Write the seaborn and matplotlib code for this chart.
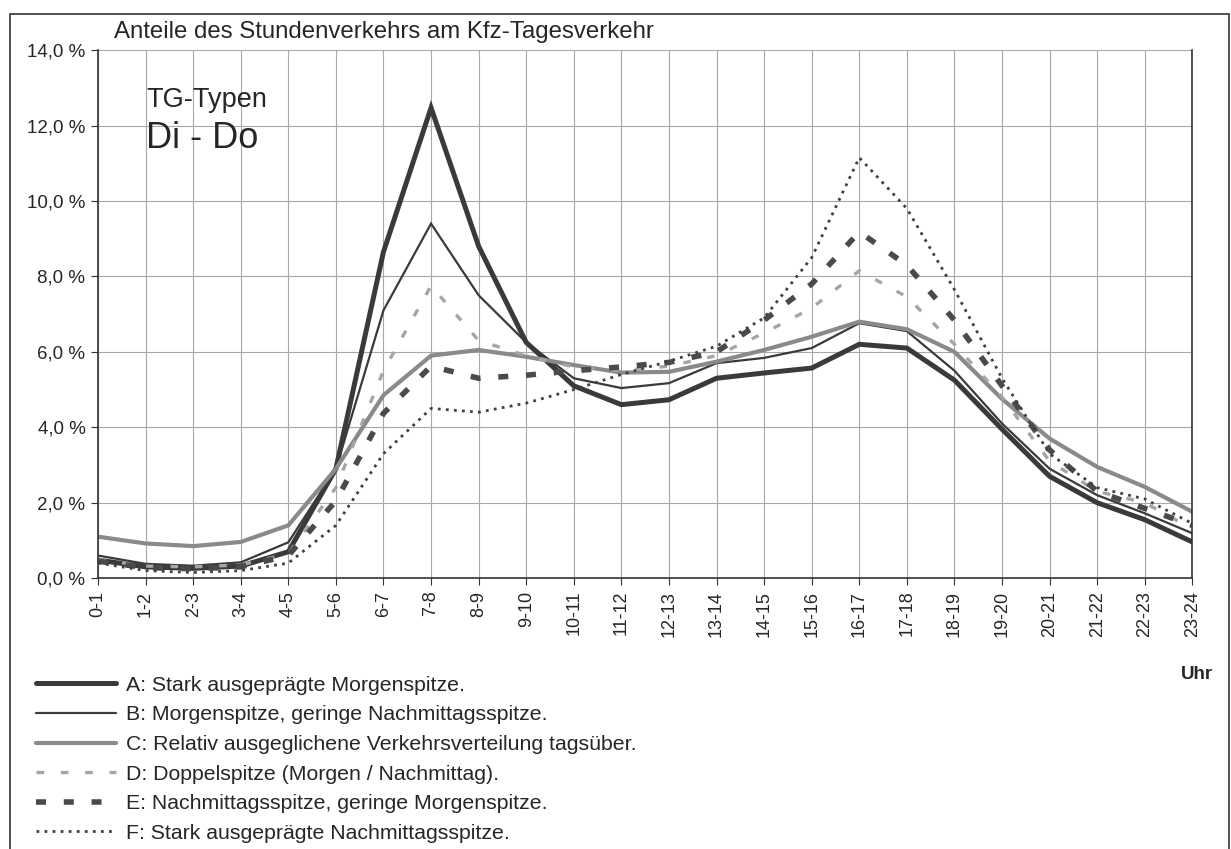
import matplotlib
matplotlib.use("Agg")
import matplotlib.pyplot as plt
import seaborn as sns
import pandas as pd
from matplotlib.patches import Rectangle

# hourly share of daily traffic (%)
hours = ["0-1", "1-2", "2-3", "3-4", "4-5", "5-6", "6-7", "7-8", "8-9", "9-10",
         "10-11", "11-12", "12-13", "13-14", "14-15", "15-16", "16-17", "17-18",
         "18-19", "19-20", "20-21", "21-22", "22-23", "23-24"]

type_a = [0.48, 0.30, 0.26, 0.32, 0.70, 2.90, 8.65, 12.47, 8.80, 6.25, 5.10, 4.60,
          4.73, 5.30, 5.44, 5.57, 6.20, 6.10, 5.25, 3.95, 2.70, 2.00, 1.55, 0.96]
type_b = [0.60, 0.38, 0.33, 0.42, 0.95, 2.90, 7.10, 9.40, 7.50, 6.25, 5.30, 5.04,
          5.17, 5.70, 5.84, 6.10, 6.76, 6.55, 5.50, 4.10, 2.90, 2.20, 1.72, 1.19]
type_c = [1.10, 0.92, 0.85, 0.96, 1.40, 2.90, 4.85, 5.90, 6.05, 5.87, 5.65, 5.45,
          5.47, 5.74, 6.05, 6.40, 6.80, 6.60, 6.00, 4.75, 3.70, 2.95, 2.42, 1.76]
type_d = [0.50, 0.32, 0.30, 0.35, 0.65, 2.40, 5.50, 7.75, 6.30, 5.90, 5.60, 5.50,
          5.62, 5.90, 6.50, 7.16, 8.15, 7.46, 6.20, 4.80, 3.10, 2.30, 2.00, 1.30]
type_e = [0.45, 0.28, 0.25, 0.30, 0.60, 2.05, 4.37, 5.62, 5.30, 5.38, 5.50, 5.60,
          5.72, 6.00, 6.84, 7.80, 9.18, 8.30, 6.84, 5.10, 3.40, 2.30, 1.85, 1.40]
type_f = [0.40, 0.20, 0.15, 0.20, 0.40, 1.40, 3.30, 4.50, 4.40, 4.64, 5.00, 5.40,
          5.75, 6.15, 6.90, 8.50, 11.15, 9.80, 7.65, 5.30, 3.30, 2.40, 2.10, 1.45]

labels = [
    "A: Stark ausgeprägte Morgenspitze.",
    "B: Morgenspitze, geringe Nachmittagsspitze.",
    "C: Relativ ausgeglichene Verkehrsverteilung tagsüber.",
    "D: Doppelspitze (Morgen / Nachmittag).",
    "E: Nachmittagsspitze, geringe Morgenspitze.",
    "F: Stark ausgeprägte Nachmittagsspitze.",
]
series = [type_a, type_b, type_c, type_d, type_e, type_f]
styles = [
    dict(color="#3a3a3a", lw=3.6),
    dict(color="#3a3a3a", lw=1.6),
    dict(color="#8a8a8a", lw=3.0),
    dict(color="#a5a5a5", lw=2.4, dashes=(2.3, 5.0)),
    dict(color="#4a4a4a", lw=4.0, dashes=(1.8, 3.2)),
    dict(color="#404040", lw=2.0, dashes=(1.0, 1.9)),
]

sns.set_style("whitegrid")
plt.rcParams["font.family"] = ["Liberation Sans", "DejaVu Sans"]

fig = plt.figure(figsize=(12.31, 8.49), dpi=100)
ax = fig.add_axes([0.0796, 0.319, 0.889, 0.622])

x = list(range(len(hours)))
handles = []
for vals, lab, st in zip(series, labels, styles):
    df = pd.DataFrame({"x": x, "y": vals})
    st = dict(st)
    dashes = st.pop("dashes", None)
    sns.lineplot(data=df, x="x", y="y", ax=ax, color=st["color"], linewidth=st["lw"],
                 label=lab, legend=False)
    line = ax.get_lines()[-1]
    if dashes is not None:
        line.set_dashes(dashes)
    line.set_solid_joinstyle("miter")
    handles.append(line)

ax.set_xlim(0, 23)
ax.set_ylim(0, 14)
ax.set_xticks(x)
ax.set_xticklabels(hours, rotation=90, fontsize=13)
ax.set_yticks(range(0, 15, 2))
ax.set_yticklabels([f"{v},0 %" for v in range(0, 15, 2)], fontsize=13.5)
ax.set_xlabel("")
ax.set_ylabel("")
ax.grid(True, color="#a8a8a8", linewidth=0.8)
ax.tick_params(axis="both", length=5, color="#333333", pad=4, left=True, bottom=True)
for side in ["left", "bottom", "right"]:
    ax.spines[side].set_color("#333333")
    ax.spines[side].set_linewidth(1.2)
ax.spines["top"].set_visible(False)

fig.text(0.0925, 0.962, "Anteile des Stundenverkehrs am Kfz-Tagesverkehr",
         fontsize=17.3, va="center", ha="left")
ax.text(0.044, 0.905, "TG-Typen", transform=ax.transAxes, fontsize=19.5, va="center")
ax.text(0.044, 0.832, "Di - Do", transform=ax.transAxes, fontsize=26, va="center")
fig.text(0.985, 0.205, "Uhr", fontsize=13.5, fontweight="bold", ha="right", va="center")

leg = fig.legend(handles, labels, loc="upper left", bbox_to_anchor=(0.029, 0.204),
                 frameon=False, fontsize=15.3, handlelength=3.8, handletextpad=0.45,
                 labelspacing=0.5, borderaxespad=0, borderpad=0)

# frame around the whole sheet
fig.patches.append(Rectangle((0.008, -0.01), 0.99, 0.993, transform=fig.transFigure,
                             fill=False, edgecolor="#444444", linewidth=1.3))

fig.savefig("out.png", dpi=100)
